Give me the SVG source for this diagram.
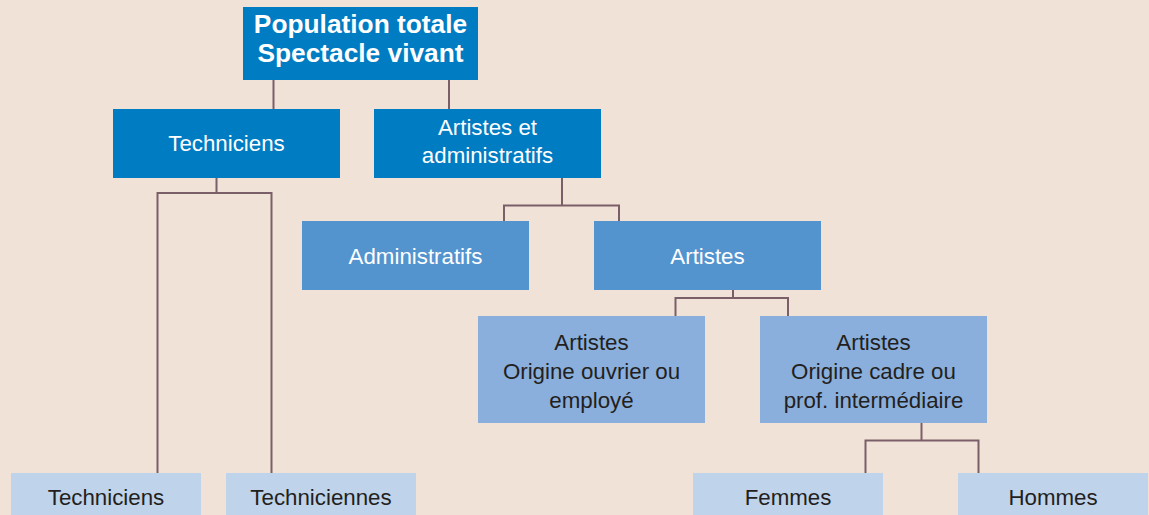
<svg xmlns="http://www.w3.org/2000/svg" width="1149" height="515" viewBox="0 0 1149 515">
<style>
.l1{fill:#007cc3}.l2{fill:#5394cf}.l3{fill:#8aafdc}.l4{fill:#bfd3eb}
text{font-family:"Liberation Sans",Arial,sans-serif;font-size:22.3px;text-anchor:middle}
.w{fill:#ffffff}.d{fill:#231f20}
.b{font-weight:bold;font-size:26.3px}
.c{fill:none;stroke:#7a5f69;stroke-width:2}
</style>
<rect width="1149" height="515" fill="#f0e2d6"/>
<g id="connectors" class="c">
<path d="M273.5 80V109M449 80V109"/>
<path d="M216.5 178V193M157.5 473V193H271.5V473"/>
<path d="M562 178V205.5M504 221V205.5H619V221"/>
<path d="M733 290V298M675.5 316V298H788V316"/>
<path d="M921.5 423V440.5M865.5 473V440.5H978.5V473"/>
</g>
<g id="n-population"><rect class="l1" x="243" y="7" width="235" height="73"/><text class="w b" x="360.5" y="33">Population totale</text><text class="w b" x="360.5" y="62">Spectacle vivant</text></g>
<g id="n-techniciens"><rect class="l1" x="113" y="109" width="227" height="69"/><text class="w" x="226.5" y="151">Techniciens</text></g>
<g id="n-artistes-admin"><rect class="l1" x="374" y="109" width="227" height="69"/><text class="w" x="487.5" y="135">Artistes et</text><text class="w" x="487.5" y="163">administratifs</text></g>
<g id="n-administratifs"><rect class="l2" x="302" y="221" width="227" height="69"/><text class="w" x="415.5" y="264">Administratifs</text></g>
<g id="n-artistes"><rect class="l2" x="594" y="221" width="227" height="69"/><text class="w" x="707.5" y="264">Artistes</text></g>
<g id="n-ouvrier"><rect class="l3" x="478" y="316" width="227" height="107"/><text class="d" x="591.5" y="350">Artistes</text><text class="d" x="591.5" y="379">Origine ouvrier ou</text><text class="d" x="591.5" y="408">employé</text></g>
<g id="n-cadre"><rect class="l3" x="760" y="316" width="227" height="107"/><text class="d" x="873.5" y="350">Artistes</text><text class="d" x="873.5" y="379">Origine cadre ou</text><text class="d" x="873.5" y="408">prof. intermédiaire</text></g>
<g id="n-techniciens2"><rect class="l4" x="11" y="473" width="190" height="69"/><text class="d" x="106" y="505">Techniciens</text></g>
<g id="n-techniciennes"><rect class="l4" x="226" y="473" width="190" height="69"/><text class="d" x="321" y="505">Techniciennes</text></g>
<g id="n-femmes"><rect class="l4" x="693" y="473" width="190" height="69"/><text class="d" x="788" y="505">Femmes</text></g>
<g id="n-hommes"><rect class="l4" x="958" y="473" width="190" height="69"/><text class="d" x="1053" y="505">Hommes</text></g>
</svg>
